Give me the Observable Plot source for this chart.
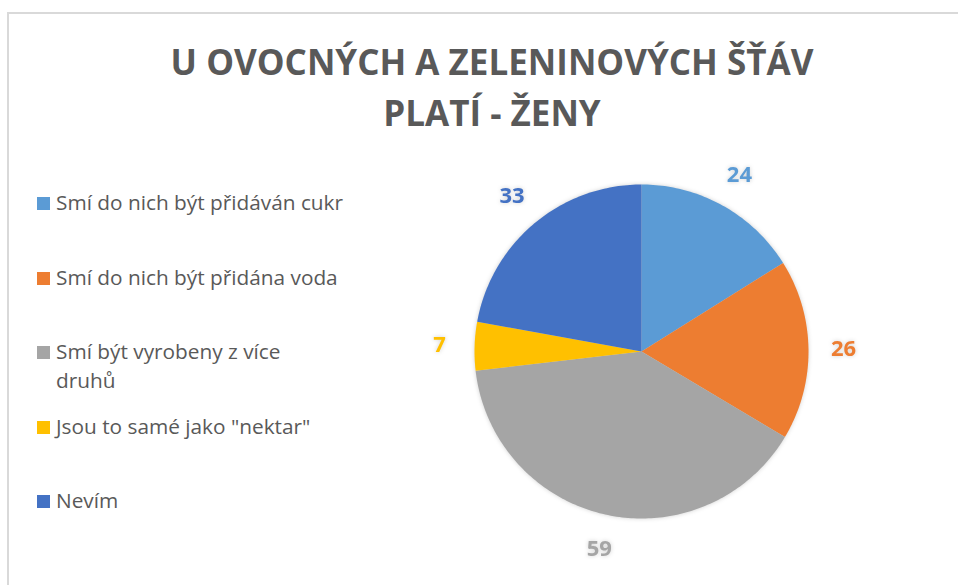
<!DOCTYPE html>
<html>
<head>
<meta charset="utf-8">
<script src="https://cdn.jsdelivr.net/npm/d3@7"></script>
<script src="https://cdn.jsdelivr.net/npm/@observablehq/plot@0.6"></script>
<style>
  html, body { margin: 0; padding: 0; background: #fff; }
  #wrap { position: relative; width: 958px; height: 585px; overflow: hidden; font-family: "Open Sans", sans-serif; }
  #frame { position: absolute; left: 7px; top: 12px; right: -10px; bottom: -10px; border-top: 2px solid #d9d9d9; border-left: 2px solid #d9d9d9; }
  #title { position: absolute; left: 0; width: 984px; top: 36px; text-align: center; color: #595959; font-weight: 700; font-size: 35px; line-height: 51px; }
  #legend { position: absolute; left: 37px; top: 0; }
  .item { position: absolute; left: 0; display: flex; align-items: flex-start; }
  .sw { width: 13px; height: 13px; margin-top: 9px; margin-right: 6px; flex: none; }
  .lab { color: #595959; font-size: 20.8px; line-height: 29px; white-space: normal; }
  #measure { position: absolute; visibility: hidden; white-space: nowrap; font-size: 20.8px; }
  #chart { position: absolute; left: 0; top: 0; }
</style>
</head>
<body>
<div id="wrap">
  <div id="frame"></div>
  <div id="title"></div>
  <div id="legend"></div>
  <div id="chart"></div>
  <span id="measure"></span>
</div>
<script>
const titleLines = ["U OVOCNÝCH A ZELENINOVÝCH ŠŤÁV", "PLATÍ - ŽENY"];
const categories = [
  "Smí do nich být přidáván cukr",
  "Smí do nich být přidána voda",
  "Smí být vyrobeny z více druhů",
  "Jsou to samé jako \"nektar\"",
  "Nevím"
];
const values = [24, 26, 59, 7, 33];
const colors = ["#5B9BD5", "#ED7D31", "#A5A5A5", "#FFC000", "#4472C4"];

// Title
const t = document.getElementById("title");
titleLines.forEach(l => { const d = document.createElement("div"); d.textContent = l; t.appendChild(d); });

// Legend (text box as wide as the first entry, so the longer third entry wraps like the original)
const meas = document.getElementById("measure");
meas.textContent = categories[0];
const boxW = Math.ceil(meas.getBoundingClientRect().width) + 1;
const leg = document.getElementById("legend");
categories.forEach((c, i) => {
  const it = document.createElement("div");
  it.className = "item";
  it.style.top = (188 + i * 74.5) + "px";
  const sw = document.createElement("div");
  sw.className = "sw"; sw.style.background = colors[i];
  const lb = document.createElement("div");
  lb.className = "lab"; lb.textContent = c; lb.style.width = boxW + "px";
  it.appendChild(sw); it.appendChild(lb);
  leg.appendChild(it);
});

// Pie geometry from data
const data = categories.map((c, i) => ({category: c, value: values[i]}));
const arcs = d3.pie().sort(null).value(d => d.value)(data);
const pts = [];
arcs.forEach(a => {
  const c = a.data.category;
  pts.push({category: c, x: 0, y: 0});
  const n = Math.max(2, Math.ceil((a.endAngle - a.startAngle) / (Math.PI / 180)));
  for (let k = 0; k <= n; k++) {
    const ang = a.startAngle + (a.endAngle - a.startAngle) * k / n;
    pts.push({category: c, x: Math.sin(ang), y: Math.cos(ang)});
  }
});
const labels = arcs.map(a => {
  const m = (a.startAngle + a.endAngle) / 2;
  return {category: a.data.category, value: a.data.value, x: 1.21 * Math.sin(m), y: 1.21 * Math.cos(m)};
});

const cx = 641, cy = 351, r = 167;
const chart = Plot.plot({
  width: 958,
  height: 585,
  margin: 0,
  axis: null,
  style: {background: "transparent", overflow: "visible"},
  x: {domain: [-1, 1], range: [cx - r, cx + r]},
  y: {domain: [-1, 1], range: [cy + r, cy - r]},
  color: {domain: categories, range: colors},
  marks: [
    Plot.line(pts, {x: "x", y: "y", z: "category", fill: "category", stroke: null, curve: "linear"}),
    Plot.text(labels, {x: "x", y: "y", text: d => String(d.value), fill: "category",
      fontSize: 22, fontWeight: 700, fontFamily: "Open Sans, sans-serif"})
  ]
});
chart.style.filter = "drop-shadow(0px 0px 2px rgba(0,0,0,0.18))";
document.getElementById("chart").appendChild(chart);
</script>
</body>
</html>
